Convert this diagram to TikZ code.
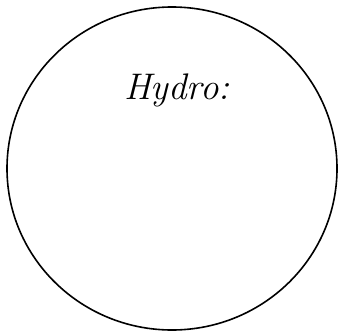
\documentclass[tikz,border=0pt]{standalone}
\usetikzlibrary{positioning, shapes.geometric}
\tikzset{
  bubble/.style={
    draw=black, line width=1.6pt, ellipse, inner sep=0pt,
    minimum width=330pt, minimum height=323pt
  },
  hand/.style={font=\fontsize{37}{44}\selectfont\itshape, text=black}
}

\begin{document}
\begin{tikzpicture}[x=1pt,y=1pt]
  \useasboundingbox (0,0) rectangle (344,333);
  \node[bubble] (hydroring) at (172,164.5) {};
  \node[hand] (hydrolabel) at (177,243) {Hydro:};
\end{tikzpicture}
\end{document}
